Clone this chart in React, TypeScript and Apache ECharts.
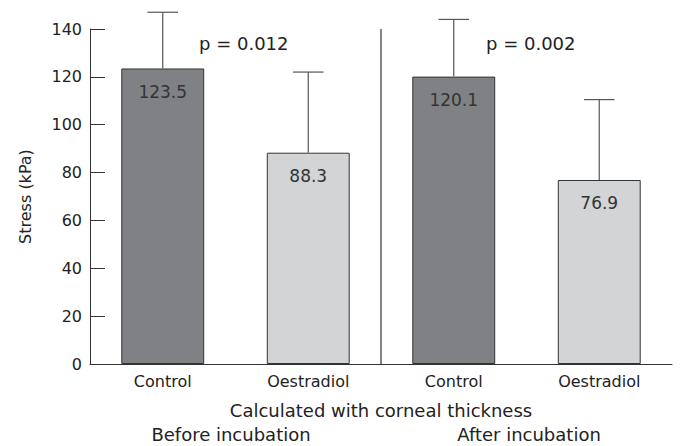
import React, { useEffect, useRef } from "react";
import * as echarts from "echarts";

const categories = ["Control", "Oestradiol", "Control", "Oestradiol"];
const means = [123.5, 88.3, 120.1, 76.9];
const upperErr = [147, 122, 144, 110.5];
const barColors = ["#808184", "#d3d4d5", "#808184", "#d3d4d5"];
const yTicks = { min: 0, max: 140, interval: 20 };
const pLabels = ["p = 0.012", "p = 0.002"];
const groupLabels = ["Before incubation", "After incubation"];
const xTitle = "Calculated with corneal thickness";
const yTitle = "Stress (kPa)";

const FONT = "'DejaVu Sans', sans-serif";

export default function App() {
  const ref = useRef<HTMLDivElement>(null);
  useEffect(() => {
    if (!ref.current) return;
    const chart = echarts.init(ref.current, undefined, { renderer: "svg" });
    chart.setOption({
      animation: false,
      backgroundColor: "#fff",
      textStyle: { fontFamily: FONT },
      grid: { left: 90, right: 10, top: 29, bottom: 82 },
      xAxis: {
        type: "category",
        data: categories,
        axisLine: { lineStyle: { color: "#333", width: 1 } },
        axisTick: { inside: true, length: 14, lineStyle: { color: "#333" } },
        axisLabel: { fontSize: 16, color: "#222", margin: 9, fontFamily: FONT },
      },
      yAxis: {
        type: "value",
        min: yTicks.min,
        max: yTicks.max,
        interval: yTicks.interval,
        name: yTitle,
        nameLocation: "middle",
        nameGap: 57,
        nameTextStyle: { fontSize: 16, color: "#222", fontFamily: FONT },
        axisLine: { show: true, lineStyle: { color: "#333", width: 1 } },
        axisTick: { show: true, inside: true, length: 15, lineStyle: { color: "#333" } },
        axisLabel: { fontSize: 16, color: "#222", margin: 8, fontFamily: FONT },
        splitLine: { show: false },
      },
      series: [
        {
          type: "bar",
          barWidth: "57%",
          data: means.map((v, i) => ({
            value: v,
            itemStyle: { color: barColors[i], borderColor: "#333", borderWidth: 1 },
          })),
          label: {
            show: true,
            position: "insideTop",
            distance: 15,
            fontSize: 17,
            color: "#333",
            fontFamily: FONT,
            formatter: (p: any) => p.value.toFixed(1),
          },
          z: 2,
        },
        {
          type: "custom",
          z: 3,
          data: means.map((v, i) => [i, v, upperErr[i]]),
          renderItem: (params: any, api: any) => {
            const i = api.value(0);
            const base = api.coord([i, api.value(1)]);
            const top = api.coord([i, api.value(2)]);
            const cap = api.size([1, 0])[0] * 0.21;
            const st = { stroke: "#555", lineWidth: 1.2 };
            return {
              type: "group",
              children: [
                { type: "line", shape: { x1: base[0], y1: base[1], x2: top[0], y2: top[1] }, style: st },
                { type: "line", shape: { x1: top[0] - cap / 2, y1: top[1], x2: top[0] + cap / 2, y2: top[1] }, style: st },
              ],
            };
          },
        },
        {
          type: "custom",
          z: 3,
          data: [[1, yTicks.max]],
          renderItem: (params: any, api: any) => {
            const i = api.value(0);
            const half = api.size([1, 0])[0] / 2;
            const top = api.coord([i, api.value(1)]);
            const bot = api.coord([i, 0]);
            return {
              type: "line",
              shape: { x1: top[0] + half, y1: top[1], x2: top[0] + half, y2: bot[1] },
              style: { stroke: "#333", lineWidth: 1.2 },
            };
          },
        },
      ],
      graphic: [
        { type: "text", x: 199, y: 43, style: { text: pLabels[0], fontSize: 18, fill: "#222", fontFamily: FONT, verticalAlign: "middle" } },
        { type: "text", x: 486, y: 43, style: { text: pLabels[1], fontSize: 18, fill: "#222", fontFamily: FONT, verticalAlign: "middle" } },
        { type: "text", x: 381, y: 410, style: { text: xTitle, fontSize: 18, fill: "#222", fontFamily: FONT, align: "center", verticalAlign: "middle" } },
        { type: "text", x: 231, y: 434, style: { text: groupLabels[0], fontSize: 18, fill: "#222", fontFamily: FONT, align: "center", verticalAlign: "middle" } },
        { type: "text", x: 529, y: 434, style: { text: groupLabels[1], fontSize: 18, fill: "#222", fontFamily: FONT, align: "center", verticalAlign: "middle" } },
      ],
    });
    return () => chart.dispose();
  }, []);
  return <div ref={ref} style={{ width: 682, height: 446, position: "absolute", left: 0, top: 0 }} />;
}
